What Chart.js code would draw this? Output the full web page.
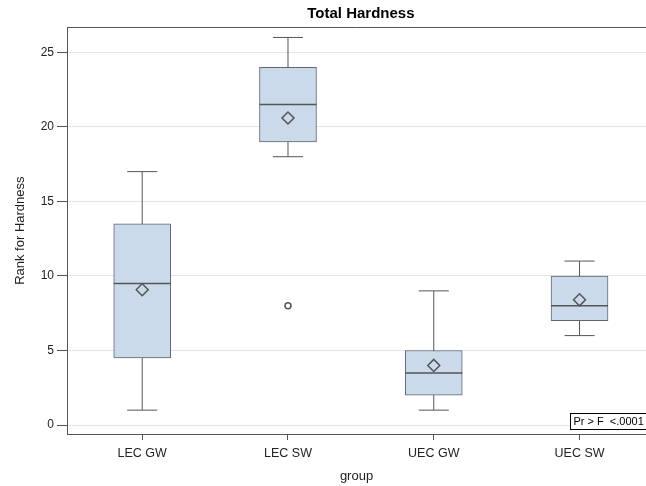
<!DOCTYPE html>
<html>
<head>
<meta charset="utf-8">
<script src="https://cdn.jsdelivr.net/npm/chart.js@4.4.1/dist/chart.umd.min.js"></script>
<style>
  html, body { margin: 0; padding: 0; background: #fff; }
  #wrap { width: 646px; height: 486px; }
</style>
</head>
<body>
<div id="wrap"><canvas id="chart" width="646" height="486"></canvas></div>
<script>
// Groups and their box statistics (rank for hardness)
const groups = ['LEC GW', 'LEC SW', 'UEC GW', 'UEC SW'];
const whiskerLow = [1, 18, 1, 6];
const q1 = [4.5, 19, 2, 7];
const medians = [9.5, 21.5, 3.5, 8];
const q3 = [13.5, 24, 5, 10];
const whiskerHigh = [17, 26, 9, 11];
const means = [9.08, 20.6, 4.0, 8.4];
// Outliers as [group index, value]
const outliers = [[1, 8]];
const yTicks = [0, 5, 10, 15, 20, 25];
const pValueText = 'Pr > F  <.0001';

const boxFill = '#CBDAEB';
const boxLine = '#5F6670';
const darkLine = '#555555';
const fontFamily = '"Liberation Sans", Arial, Helvetica, sans-serif';

Chart.defaults.font.family = fontFamily;
Chart.defaults.color = '#222';

// Whisker stems, one line per group
const stemSets = groups.map((g, i) => ({
    type: 'line',
    data: [{ x: i, y: whiskerLow[i] }, { x: i, y: whiskerHigh[i] }],
    borderColor: darkLine,
    borderWidth: 1,
    pointRadius: 0,
    order: 6
}));

const capPoints = groups.flatMap((g, i) => [
    { x: i, y: whiskerLow[i] },
    { x: i, y: whiskerHigh[i] }
]);

// Title centred over the whole plot frame (which runs past the right edge)
// Top frame line and the p-value inset
const framePlugin = {
    id: 'frame',
    afterLayout(chart) {
        const t = chart.titleBlock;
        const cx = chart.scales.x.getPixelForValue((groups.length - 1) / 2);
        const shift = cx - (t.left + t.right) / 2;
        t.left += shift;
        t.right += shift;
    },
    afterDraw(chart) {
        const { ctx, chartArea: a } = chart;
        ctx.save();
        ctx.strokeStyle = darkLine;
        ctx.lineWidth = 1;
        const top = Math.round(a.top) + 0.5;
        ctx.beginPath();
        ctx.moveTo(a.left, top);
        ctx.lineTo(a.right, top);
        ctx.stroke();

        const bx = Math.round(a.right - 76) + 0.5;
        const by = Math.round(a.bottom - 21) + 0.5;
        ctx.fillStyle = '#fff';
        ctx.fillRect(bx, by, a.right - bx + 10, 16);
        ctx.strokeStyle = '#000';
        ctx.strokeRect(bx, by, a.right - bx + 10, 16);
        ctx.fillStyle = '#000';
        ctx.font = '11px ' + fontFamily;
        ctx.textBaseline = 'middle';
        ctx.fillText(pValueText, bx + 3, by + 8.5);
        ctx.restore();
    }
};

new Chart(document.getElementById('chart'), {
    type: 'scatter',
    data: {
        datasets: [
            ...stemSets,
            {
                type: 'scatter',
                data: capPoints,
                pointStyle: 'line',
                pointRadius: 15,
                borderColor: darkLine,
                borderWidth: 1,
                order: 5
            },
            {
                type: 'bar',
                data: groups.map((g, i) => ({ x: i, y: [q1[i], q3[i]] })),
                barThickness: 57,
                backgroundColor: boxFill,
                borderColor: boxLine,
                borderWidth: 1,
                borderSkipped: false,
                order: 4
            },
            {
                type: 'scatter',
                data: groups.map((g, i) => ({ x: i, y: medians[i] })),
                pointStyle: 'line',
                pointRadius: 28.5,
                borderColor: darkLine,
                borderWidth: 1.5,
                order: 3
            },
            {
                type: 'scatter',
                data: groups.map((g, i) => ({ x: i, y: means[i] })),
                pointStyle: 'rectRot',
                pointRadius: 6,
                backgroundColor: boxFill,
                borderColor: darkLine,
                borderWidth: 1.5,
                order: 2
            },
            {
                type: 'scatter',
                data: outliers.map(o => ({ x: o[0], y: o[1] })),
                pointStyle: 'circle',
                pointRadius: 3,
                backgroundColor: '#fff',
                borderColor: darkLine,
                borderWidth: 1.5,
                order: 1
            }
        ]
    },
    options: {
        responsive: false,
        animation: false,
        events: [],
        layout: { padding: 0, autoPadding: false },
        plugins: {
            legend: { display: false },
            tooltip: { enabled: false },
            title: {
                display: true,
                text: 'Total Hardness',
                color: '#000',
                fullSize: false,
                font: { size: 15, weight: 'bold' },
                padding: { top: 5, bottom: 4.3 }
            }
        },
        scales: {
            x: {
                type: 'linear',
                min: -0.516,
                max: 3.456,
                offset: false,
                grid: {
                    offset: false,
                    drawOnChartArea: false,
                    drawTicks: true,
                    tickLength: 6,
                    tickColor: darkLine
                },
                border: { display: true, color: darkLine, width: 1 },
                afterBuildTicks: s => { s.ticks = groups.map((g, i) => ({ value: i })); },
                ticks: {
                    autoSkip: false,
                    maxRotation: 0,
                    padding: 6,
                    color: '#222',
                    font: { size: 12.5 },
                    callback: v => groups[v] ?? ''
                },
                title: {
                    display: true,
                    text: 'group',
                    color: '#222',
                    font: { size: 13 },
                    padding: { top: 4, bottom: 2 }
                },
                afterFit: s => {
                    s.height = 52;
                    s.paddingLeft = 0;
                    s.paddingRight = 0;
                }
            },
            y: {
                type: 'linear',
                min: -0.6,
                max: 26.68,
                grid: {
                    color: '#E4E4E4',
                    tickColor: darkLine,
                    tickLength: 10
                },
                border: { display: true, color: darkLine, width: 1 },
                afterBuildTicks: s => { s.ticks = yTicks.map(v => ({ value: v })); },
                ticks: {
                    padding: 3,
                    color: '#222',
                    font: { size: 12 }
                },
                title: {
                    display: true,
                    text: 'Rank for Hardness',
                    color: '#222',
                    font: { size: 13 },
                    padding: { top: 13, bottom: 0 }
                },
                afterFit: s => {
                    s.width = 67;
                    s.paddingTop = 0;
                    s.paddingBottom = 0;
                }
            }
        }
    },
    plugins: [framePlugin]
});
</script>
</body>
</html>
